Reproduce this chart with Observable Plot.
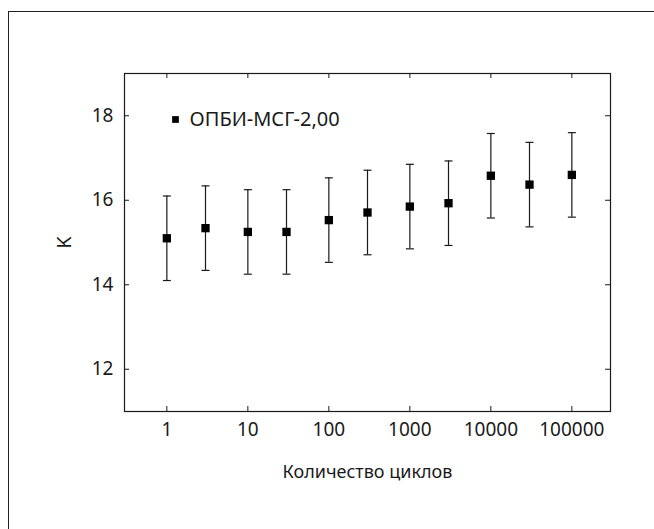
<!DOCTYPE html>
<html>
<head>
<meta charset="utf-8">
<script src="https://cdn.jsdelivr.net/npm/d3@7"></script>
<script src="https://cdn.jsdelivr.net/npm/@observablehq/plot@0.6"></script>
<style>
  html, body { margin: 0; padding: 0; background: #fff; overflow: hidden; }
  #wrap { position: relative; width: 654px; height: 529px; }
  #border { position: absolute; left: 8px; top: 11px; width: 700px; height: 600px;
            border-top: 1px solid #222; border-left: 1px solid #222; pointer-events: none; }
  #chart { position: absolute; left: 0; top: 0; }
</style>
</head>
<body>
<div id="wrap"><div id="border"></div><div id="chart"></div></div>
<script>
// Data
const cycles  = [1, 3, 10, 30, 100, 300, 1000, 3000, 10000, 30000, 100000];
const kValues = [15.10, 15.34, 15.25, 15.25, 15.53, 15.71, 15.85, 15.93, 16.58, 16.37, 16.60];
const kErrors = [1, 1, 1, 1, 1, 1, 1, 1, 1, 1, 1];
const xTicks  = [1, 10, 100, 1000, 10000, 100000];
const yTicks  = [12, 14, 16, 18];
const seriesName = "ОПБИ-МСГ-2,00";
const xLabel = "Количество циклов";
const yLabel = "K";

const rows = cycles.map((c, i) => ({x: c, y: kValues[i], lo: kValues[i] - kErrors[i], hi: kValues[i] + kErrors[i]}));

const W = 654, H = 529;
const mT = 73, mB = 118, mL = 124, mR = 44;
const frameH = H - mT - mB, frameW = W - mL - mR;
const tick = 5;
const ink = "#1a1a1a";

const capSymbol = {
  draw(context, size) {
    const w = 4;
    context.moveTo(-w, 0);
    context.lineTo(w, 0);
  }
};

const plot = Plot.plot({
  width: W, height: H,
  marginTop: mT, marginBottom: mB, marginLeft: mL, marginRight: mR,
  style: {fontFamily: "'Noto Sans', sans-serif", fontSize: "18px", color: ink, background: "transparent"},
  x: {type: "log", domain: [0.3, 300000]},
  y: {domain: [11, 19]},
  marks: [
    Plot.axisX({ticks: xTicks, tickSize: 0, tickPadding: 10.5, tickFormat: d => String(d), fontSize: 19,
      label: null, fill: ink}),
    Plot.axisX({ticks: [], tickSize: 0, label: xLabel, labelAnchor: "center", labelArrow: "none",
      labelOffset: 66, fontSize: 18, fill: ink}),
    Plot.axisY({ticks: yTicks, tickSize: 0, tickPadding: 11, tickFormat: d => String(d), fontSize: 19,
      label: null, fill: ink}),
    Plot.axisY({ticks: [], tickSize: 0, label: yLabel, labelAnchor: "center", labelArrow: "none",
      labelOffset: 68, fontSize: 20, fill: ink}),
    // inward ticks on all four sides
    Plot.ruleX(xTicks, {x: d => d, insetTop: frameH - tick, stroke: ink}),
    Plot.ruleX(xTicks, {x: d => d, insetBottom: frameH - tick, stroke: ink}),
    Plot.ruleY(yTicks, {y: d => d, insetRight: frameW - tick, stroke: ink}),
    Plot.ruleY(yTicks, {y: d => d, insetLeft: frameW - tick, stroke: ink}),
    Plot.frame({stroke: ink, strokeWidth: 1.2}),
    // error bars
    Plot.ruleX(rows, {x: "x", y1: "lo", y2: "hi", stroke: ink, strokeWidth: 1.2}),
    Plot.dot(rows, {x: "x", y: "hi", symbol: capSymbol, r: 4, stroke: ink, fill: "none", strokeWidth: 1.2}),
    Plot.dot(rows, {x: "x", y: "lo", symbol: capSymbol, r: 4, stroke: ink, fill: "none", strokeWidth: 1.2}),
    Plot.dot(rows, {x: "x", y: "y", symbol: "square", r: 4.7, fill: "#000", stroke: "none"}),
    // legend
    Plot.dot([seriesName], {frameAnchor: "top-left", dx: 51, dy: 46, symbol: "square", r: 3.8, fill: "#000", stroke: "none"}),
    Plot.text([seriesName], {frameAnchor: "top-left", dx: 65, dy: 46, text: d => d, textAnchor: "start", lineAnchor: "middle", fill: ink, fontSize: 20})
  ]
});
document.getElementById("chart").appendChild(plot);
</script>
</body>
</html>
